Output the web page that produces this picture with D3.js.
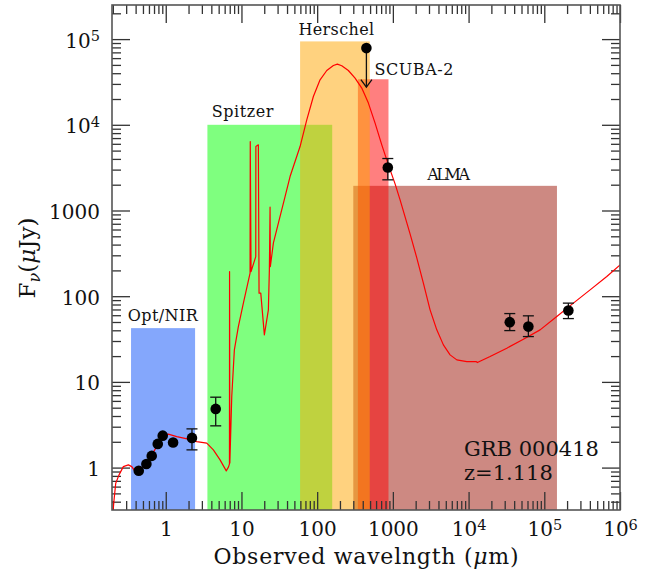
<!DOCTYPE html>
<html>
<head>
<meta charset="utf-8">
<script src="https://cdn.jsdelivr.net/npm/d3@7"></script>
<style>
  body { margin: 0; background: #fff; }
  text { font-family: "DejaVu Serif", serif; }
</style>
</head>
<body>
<div id="chart"></div>
<script>
// model SED, observed wavelength (um) vs flux density (uJy)
const sedLam = [0.201, 0.2075, 0.2185, 0.2415, 0.2754, 0.3206, 0.3556, 0.3815, 0.4397, 0.5543,
  0.653, 0.784, 0.913, 1.082, 1.397, 1.989, 2.567, 3.48, 4.254, 5.216,
  6.3, 6.754, 6.942, 6.963, 7.027, 7.446, 8.058, 9.10, 10.60, 12.99,
  13.07, 13.39, 15.45, 15.50, 16.72, 17.08, 17.99, 20.07, 22.67, 23.37,
  23.87, 24.09, 26.39, 30.73, 37.66, 43.85, 59.44, 72.88, 89.1, 109.2,
  133.9, 163.7, 184.9, 211.3, 258.3, 316.7, 388.3, 474.8, 582.1, 713.6,
  872.2, 1069, 1245, 1687, 2069, 2529, 3100, 3801, 4647, 5696,
  6985, 9467, 12560, 13070, 19230, 31960, 52960, 88000, 146300, 242300,
  402700, 669300, 1003000];
const sedFlux = [0.304, 0.42, 0.658, 0.822, 1.027, 1.075, 1.027, 0.940, 0.915, 1.135,
  1.407, 1.84, 2.344, 2.454, 2.30, 2.145, 2.012, 1.927, 1.609, 1.23,
  0.915, 1.019, 1.105, 193.9, 1.135, 6.74, 23.64, 44.2, 82.96, 185.8,
  6381, 193.9, 290.1, 5578, 5839, 108.5, 108.5, 35.39, 69.28, 202.9,
  1094, 221.8, 415.9, 712.2, 1455, 2491, 5578, 11430, 21380, 33500,
  43010, 49200, 51080, 48800, 43010, 35060, 26800, 17910, 10460, 5839,
  3411, 2047, 1331, 534.1, 280.2, 142, 69.28, 40.47, 27.04, 20.67,
  18.07, 17.27, 17.27, 16.81, 19.75, 24.75, 31.52, 40.47, 57.87, 82.96,
  118.6, 169.5, 232.2];

// photometry (null = no error bar drawn)
const ptLam  = [0.44, 0.555, 0.653, 0.784, 0.912, 1.25, 2.22, 4.57, 857, 35000, 61600, 208000];
const ptFlux = [0.92, 1.10, 1.37, 1.89, 2.36, 1.96, 2.22, 4.84, 3170, 49.8, 44.2, 68];
const ptLo   = [null, null, null, null, null, null, 1.61, 3.07, 2280, 39.7, 33.8, 54.8];
const ptHi   = [null, null, null, null, null, null, 2.83, 6.63, 4040, 62.7, 59.0, 83];

// 450 um upper limit
const ulLam = [447];
const ulFlux = [78500];
const ulArrowTo = [27500];

// instrument coverage, in drawing order
const bandNames = ["Opt/NIR", "Spitzer", "ALMA", "SCUBA-2", "Herschel"];
const bandLo  = [0.348, 3.55, 300, 345, 59.5];
const bandHi  = [2.44, 158, 147000, 875, 495];
const bandTop = [42.4, 10000, 1940, 34000, 94000];

const xTicks = [1, 10, 100, 1000, 1e4, 1e5, 1e6];
const xTickLabels = ["1", "10", "100", "1000", "10^4", "10^5", "10^6"];
const yTicks = [1, 10, 100, 1000, 1e4, 1e5];
const yTickLabels = ["1", "10", "100", "1000", "10^4", "10^5"];

const width = 645, height = 573;
const pLeft = 112, pRight = 620, pTop = 5, pBottom = 510;

const bandColors = ["rgba(10,80,250,0.5)", "rgba(0,255,0,0.5)", "rgba(155,20,5,0.5)",
  "rgba(255,0,0,0.5)", "rgba(255,165,0,0.5)"];
// label placement relative to the band's top-left corner, and width to fit
const bandLabelDx = [-3.3, 4.4, 74, 16.6, -1.7];
const bandLabelDy = [-7, -8, -5.5, -4, -6];
const bandLabelLen = [70, 61.6, 42.7, 79, 75.7];

const x = d3.scaleLog().domain([0.195, 1e6]).range([pLeft, pRight]);
const y = d3.scaleLog().domain([0.32, 2.5e5]).range([pBottom, pTop]);

const svg = d3.select("#chart").append("svg")
  .attr("width", width)
  .attr("height", height);

svg.append("defs").append("clipPath").attr("id", "plot-clip")
  .append("rect")
  .attr("x", pLeft).attr("y", pTop)
  .attr("width", pRight - pLeft).attr("height", pBottom - pTop);

// bands
svg.append("g")
  .selectAll("rect")
  .data(bandNames)
  .enter()
  .append("rect")
    .attr("x", (d, i) => x(bandLo[i]))
    .attr("y", (d, i) => y(bandTop[i]))
    .attr("width", (d, i) => x(bandHi[i]) - x(bandLo[i]))
    .attr("height", (d, i) => pBottom - y(bandTop[i]))
    .attr("fill", (d, i) => bandColors[i]);

svg.append("g")
  .selectAll("text")
  .data(bandNames)
  .enter()
  .append("text")
    .attr("x", (d, i) => x(bandLo[i]) + bandLabelDx[i])
    .attr("y", (d, i) => y(bandTop[i]) + bandLabelDy[i])
    .attr("font-size", 16)
    .attr("textLength", (d, i) => bandLabelLen[i])
    .attr("lengthAdjust", "spacing")
    .attr("fill", "#111")
    .text(d => d);

// minor ticks
const xMinor = [];
for (let e = -1; e <= 5; e++) {
  for (let k = 2; k <= 9; k++) {
    const v = k * Math.pow(10, e);
    if (v >= 0.195 && v <= 1e6) xMinor.push(v);
  }
}
const yMinor = [];
for (let e = -1; e <= 5; e++) {
  for (let k = 2; k <= 9; k++) {
    const v = k * Math.pow(10, e);
    if (v >= 0.32 && v <= 2.5e5) yMinor.push(v);
  }
}

function plainAxis(g, stroke) {
  g.select(".domain").remove();
  g.selectAll(".tick line").attr("stroke", stroke).attr("stroke-width", 1.3);
}

function superLabels(g, labels) {
  g.attr("font-family", "DejaVu Serif, serif").attr("font-size", 20).attr("color", "#111");
  g.selectAll(".tick text").each(function(d, i) {
    const t = d3.select(this).text(null);
    const parts = labels[i].split("^");
    t.append("tspan").text(parts[0]);
    if (parts[1]) {
      t.append("tspan").attr("dy", -6.5).attr("font-size", 14.5).text(parts[1]);
    }
  });
}

const tickColor = "#333";
const axes = svg.append("g").attr("class", "axes");

// bottom
axes.append("g").attr("transform", `translate(0,${pBottom})`)
  .call(d3.axisBottom(x).tickValues(xMinor).tickSize(-9).tickFormat(""))
  .call(g => plainAxis(g, tickColor))
  .selectAll("text").remove();
axes.append("g").attr("transform", `translate(0,${pBottom})`)
  .call(d3.axisBottom(x).tickValues(xTicks).tickSize(-18).tickPadding(12).tickFormat(""))
  .call(g => plainAxis(g, tickColor))
  .call(g => superLabels(g, xTickLabels));
// top
axes.append("g").attr("transform", `translate(0,${pTop})`)
  .call(d3.axisTop(x).tickValues(xMinor).tickSize(-9).tickFormat(""))
  .call(g => plainAxis(g, tickColor))
  .selectAll("text").remove();
axes.append("g").attr("transform", `translate(0,${pTop})`)
  .call(d3.axisTop(x).tickValues(xTicks).tickSize(-18).tickFormat(""))
  .call(g => plainAxis(g, tickColor))
  .selectAll("text").remove();
// left
axes.append("g").attr("transform", `translate(${pLeft},0)`)
  .call(d3.axisLeft(y).tickValues(yMinor).tickSize(-9).tickFormat(""))
  .call(g => plainAxis(g, tickColor))
  .selectAll("text").remove();
axes.append("g").attr("transform", `translate(${pLeft},0)`)
  .call(d3.axisLeft(y).tickValues(yTicks).tickSize(-18).tickPadding(12).tickFormat(""))
  .call(g => plainAxis(g, tickColor))
  .call(g => superLabels(g, yTickLabels))
  .call(g => g.selectAll(".tick text").attr("dy", "0.4em"));
// right
axes.append("g").attr("transform", `translate(${pRight},0)`)
  .call(d3.axisRight(y).tickValues(yMinor).tickSize(-9).tickFormat(""))
  .call(g => plainAxis(g, tickColor))
  .selectAll("text").remove();
axes.append("g").attr("transform", `translate(${pRight},0)`)
  .call(d3.axisRight(y).tickValues(yTicks).tickSize(-18).tickFormat(""))
  .call(g => plainAxis(g, tickColor))
  .selectAll("text").remove();

// model curve
const line = d3.line()
  .x((d, i) => x(sedLam[i]))
  .y((d, i) => y(sedFlux[i]));

svg.append("path")
  .datum(sedLam)
  .attr("clip-path", "url(#plot-clip)")
  .attr("fill", "none")
  .attr("stroke", "#ff0000")
  .attr("stroke-width", 1.2)
  .attr("stroke-linejoin", "round")
  .attr("d", line);

// error bars
const cap = 5.5;
const errs = svg.append("g").attr("stroke", "#111").attr("stroke-width", 1.3);
ptLam.forEach((lam, i) => {
  if (ptLo[i] == null) return;
  const cx = x(lam);
  errs.append("line").attr("x1", cx).attr("x2", cx).attr("y1", y(ptLo[i])).attr("y2", y(ptHi[i]));
  errs.append("line").attr("x1", cx - cap).attr("x2", cx + cap).attr("y1", y(ptLo[i])).attr("y2", y(ptLo[i]));
  errs.append("line").attr("x1", cx - cap).attr("x2", cx + cap).attr("y1", y(ptHi[i])).attr("y2", y(ptHi[i]));
});

// upper limit with arrow
ulLam.forEach((lam, i) => {
  const cx = x(lam), y0 = y(ulFlux[i]), y1 = y(ulArrowTo[i]);
  errs.append("line").attr("x1", cx).attr("x2", cx).attr("y1", y0).attr("y2", y1);
  errs.append("path")
    .attr("fill", "none")
    .attr("d", `M${cx - 5.5},${y1 - 7.5}L${cx},${y1}L${cx + 5.5},${y1 - 7.5}`);
});

// points
svg.append("g")
  .selectAll("circle")
  .data(ptLam.concat(ulLam))
  .enter()
  .append("circle")
    .attr("cx", d => x(d))
    .attr("cy", (d, i) => y(i < ptLam.length ? ptFlux[i] : ulFlux[i - ptLam.length]))
    .attr("r", 5.3)
    .attr("fill", "#000");

// frame
svg.append("rect")
  .attr("x", pLeft).attr("y", pTop)
  .attr("width", pRight - pLeft).attr("height", pBottom - pTop)
  .attr("fill", "none")
  .attr("stroke", "#555")
  .attr("stroke-width", 1.6);

// axis titles
const xTitle = svg.append("text")
  .attr("x", 366).attr("y", 564)
  .attr("text-anchor", "middle")
  .attr("font-size", 22)
  .attr("textLength", 305)
  .attr("lengthAdjust", "spacing")
  .attr("fill", "#111");
xTitle.append("tspan").text("Observed wavelngth (");
xTitle.append("tspan").attr("font-style", "italic").text("μ");
xTitle.append("tspan").text("m)");

const yTitle = svg.append("text")
  .attr("transform", "translate(35,258) rotate(-90)")
  .attr("text-anchor", "middle")
  .attr("font-size", 23)
  .attr("fill", "#111");
yTitle.append("tspan").text("F");
yTitle.append("tspan").attr("font-size", 16).attr("font-style", "italic").attr("dy", 5).text("ν");
yTitle.append("tspan").attr("dy", -5).text("(");
yTitle.append("tspan").attr("font-style", "italic").text("μ");
yTitle.append("tspan").text("Jy)");

// source label
svg.append("text")
  .attr("x", 464).attr("y", 455.7)
  .attr("font-size", 21)
  .attr("fill", "#111")
  .text("GRB 000418");
svg.append("text")
  .attr("x", 464).attr("y", 480)
  .attr("font-size", 21)
  .attr("fill", "#111")
  .text("z=1.118");
</script>
</body>
</html>
